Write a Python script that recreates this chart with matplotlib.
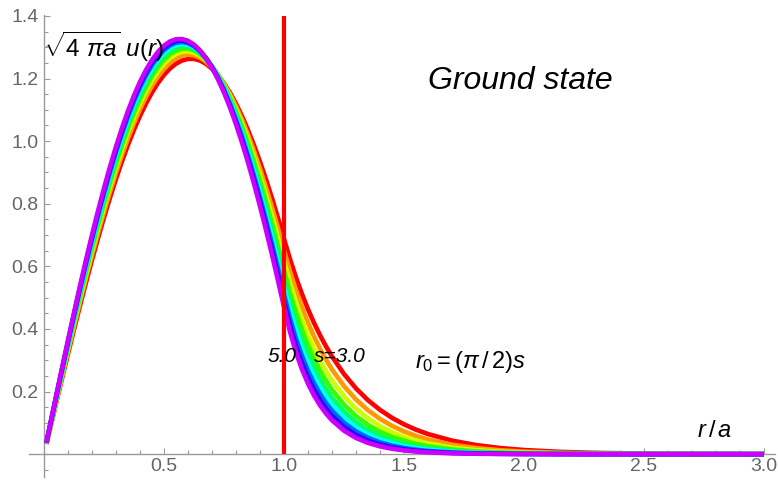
import colorsys

import matplotlib
matplotlib.use('Agg')
from matplotlib import pyplot as plt
from matplotlib.ticker import MultipleLocator

plt.rcParams['font.family'] = 'Liberation Sans'
plt.rcParams['mathtext.fontset'] = 'custom'
plt.rcParams['mathtext.rm'] = 'Liberation Sans'
plt.rcParams['mathtext.it'] = 'Liberation Sans:italic'
plt.rcParams['mathtext.sf'] = 'Liberation Sans'

# r/a sample points and sqrt(4 pi a) u(r) for each well strength s
rho = [0.01, 0.05, 0.075, 0.1, 0.125, 0.15, 0.175, 0.2, 0.225, 0.25,
       0.275, 0.3, 0.325, 0.35, 0.375, 0.4, 0.425, 0.45, 0.475, 0.5,
       0.525, 0.55, 0.575, 0.6, 0.625, 0.65, 0.675, 0.7, 0.725, 0.75,
       0.775, 0.8, 0.825, 0.85, 0.875, 0.9, 0.925, 0.95, 0.975, 1.0,
       1.025, 1.05, 1.075, 1.1, 1.125, 1.15, 1.175, 1.2,
       1.25, 1.3, 1.35, 1.4, 1.45, 1.5, 1.55, 1.6,
       1.7, 1.8, 1.9, 2.0, 2.15, 2.3, 2.6, 3.0]

s_values = [3.0, 3.25, 3.5, 3.75, 4.0, 4.25, 4.5, 4.75, 5.0]

u_300 = [0.0324, 0.1617, 0.2417, 0.3207, 0.3984, 0.4744, 0.5485, 0.6203, 0.6897, 0.7562,
         0.8196, 0.8796, 0.9358, 0.9882, 1.0365, 1.0806, 1.1204, 1.1556, 1.1860, 1.2116,
         1.2321, 1.2475, 1.2577, 1.2628, 1.2627, 1.2575, 1.2470, 1.2314, 1.2108, 1.1852,
         1.1548, 1.1196, 1.0797, 1.0353, 0.9867, 0.9340, 0.8776, 0.8176, 0.7543, 0.6878,
         0.6231, 0.5645, 0.5114, 0.4632, 0.4196, 0.3802, 0.3444, 0.3120,
         0.2561, 0.2101, 0.1724, 0.1415, 0.1161, 0.0953, 0.0782, 0.0642,
         0.0432, 0.0291, 0.0196, 0.0132, 0.0073, 0.0040, 0.0012, 0.0003]
u_325 = [0.0333, 0.1658, 0.2478, 0.3288, 0.4084, 0.4863, 0.5621, 0.6355, 0.7062, 0.7739,
         0.8383, 0.8992, 0.9563, 1.0093, 1.0580, 1.1022, 1.1418, 1.1765, 1.2062, 1.2308,
         1.2502, 1.2642, 1.2730, 1.2763, 1.2742, 1.2667, 1.2538, 1.2356, 1.2122, 1.1836,
         1.1500, 1.1115, 1.0683, 1.0206, 0.9685, 0.9123, 0.8523, 0.7886, 0.7216, 0.6515,
         0.5838, 0.5231, 0.4687, 0.4200, 0.3763, 0.3372, 0.3021, 0.2708,
         0.2174, 0.1746, 0.1402, 0.1125, 0.0903, 0.0726, 0.0583, 0.0468,
         0.0302, 0.0194, 0.0125, 0.0081, 0.0042, 0.0022, 0.0006, 0.0001]
u_350 = [0.0340, 0.1694, 0.2532, 0.3359, 0.4171, 0.4965, 0.5737, 0.6485, 0.7204, 0.7892,
         0.8546, 0.9162, 0.9738, 1.0272, 1.0761, 1.1203, 1.1596, 1.1939, 1.2230, 1.2468,
         1.2652, 1.2780, 1.2853, 1.2869, 1.2830, 1.2734, 1.2583, 1.2377, 1.2117, 1.1805,
         1.1441, 1.1028, 1.0567, 1.0059, 0.9507, 0.8914, 0.8283, 0.7615, 0.6914, 0.6183,
         0.5481, 0.4858, 0.4306, 0.3817, 0.3384, 0.3000, 0.2659, 0.2357,
         0.1852, 0.1455, 0.1143, 0.0899, 0.0706, 0.0555, 0.0436, 0.0343,
         0.0212, 0.0131, 0.0081, 0.0050, 0.0024, 0.0012, 0.0003, 0.0000]
u_375 = [0.0346, 0.1726, 0.2580, 0.3421, 0.4247, 0.5055, 0.5840, 0.6599, 0.7328, 0.8025,
         0.8686, 0.9309, 0.9890, 1.0427, 1.0917, 1.1359, 1.1750, 1.2089, 1.2374, 1.2604,
         1.2777, 1.2894, 1.2953, 1.2954, 1.2898, 1.2784, 1.2613, 1.2386, 1.2104, 1.1768,
         1.1379, 1.0940, 1.0452, 0.9917, 0.9338, 0.8717, 0.8058, 0.7363, 0.6635, 0.5877,
         0.5154, 0.4520, 0.3964, 0.3476, 0.3048, 0.2674, 0.2345, 0.2056,
         0.1581, 0.1216, 0.0935, 0.0720, 0.0554, 0.0426, 0.0328, 0.0252,
         0.0149, 0.0088, 0.0052, 0.0031, 0.0014, 0.0006, 0.0001, 0.0000]
u_400 = [0.0352, 0.1753, 0.2620, 0.3475, 0.4314, 0.5134, 0.5930, 0.6699, 0.7438, 0.8143,
         0.8811, 0.9439, 1.0024, 1.0563, 1.1054, 1.1495, 1.1884, 1.2218, 1.2497, 1.2720,
         1.2885, 1.2991, 1.3038, 1.3025, 1.2953, 1.2823, 1.2634, 1.2388, 1.2085, 1.1727,
         1.1316, 1.0854, 1.0342, 0.9783, 0.9180, 0.8535, 0.7852, 0.7132, 0.6380, 0.5599,
         0.4858, 0.4216, 0.3658, 0.3174, 0.2754, 0.2390, 0.2074, 0.1800,
         0.1355, 0.1020, 0.0768, 0.0578, 0.0435, 0.0328, 0.0247, 0.0186,
         0.0105, 0.0060, 0.0034, 0.0019, 0.0008, 0.0004, 0.0001, 0.0000]
u_425 = [0.0357, 0.1778, 0.2657, 0.3524, 0.4374, 0.5204, 0.6010, 0.6788, 0.7535, 0.8247,
         0.8921, 0.9553, 1.0141, 1.0682, 1.1174, 1.1614, 1.2001, 1.2331, 1.2605, 1.2820,
         1.2976, 1.3072, 1.3108, 1.3083, 1.2997, 1.2851, 1.2646, 1.2382, 1.2061, 1.1684,
         1.1253, 1.0769, 1.0237, 0.9656, 0.9031, 0.8364, 0.7659, 0.6917, 0.6144, 0.5342,
         0.4587, 0.3938, 0.3381, 0.2904, 0.2494, 0.2141, 0.1838, 0.1578,
         0.1163, 0.0858, 0.0633, 0.0466, 0.0344, 0.0253, 0.0187, 0.0138,
         0.0075, 0.0041, 0.0022, 0.0012, 0.0005, 0.0002, 0.0000, 0.0000]
u_450 = [0.0361, 0.1800, 0.2690, 0.3567, 0.4427, 0.5267, 0.6082, 0.6868, 0.7622, 0.8339,
         0.9018, 0.9654, 1.0245, 1.0788, 1.1281, 1.1719, 1.2103, 1.2430, 1.2699, 1.2908,
         1.3057, 1.3143, 1.3168, 1.3131, 1.3033, 1.2872, 1.2652, 1.2372, 1.2034, 1.1639,
         1.1190, 1.0688, 1.0136, 0.9536, 0.8892, 0.8205, 0.7481, 0.6720, 0.5928, 0.5108,
         0.4340, 0.3688, 0.3134, 0.2663, 0.2263, 0.1922, 0.1633, 0.1388,
         0.1002, 0.0724, 0.0523, 0.0377, 0.0272, 0.0197, 0.0142, 0.0102,
         0.0053, 0.0028, 0.0015, 0.0008, 0.0003, 0.0001, 0.0000, 0.0000]
u_475 = [0.0365, 0.1820, 0.2719, 0.3605, 0.4474, 0.5322, 0.6145, 0.6938, 0.7698, 0.8421,
         0.9105, 0.9744, 1.0337, 1.0881, 1.1373, 1.1811, 1.2193, 1.2516, 1.2780, 1.2983,
         1.3124, 1.3202, 1.3218, 1.3170, 1.3060, 1.2888, 1.2654, 1.2359, 1.2006, 1.1595,
         1.1130, 1.0611, 1.0042, 0.9425, 0.8763, 0.8059, 0.7316, 0.6539, 0.5731, 0.4895,
         0.4116, 0.3461, 0.2910, 0.2448, 0.2059, 0.1731, 0.1456, 0.1224,
         0.0866, 0.0612, 0.0433, 0.0306, 0.0216, 0.0153, 0.0108, 0.0077,
         0.0038, 0.0019, 0.0010, 0.0005, 0.0002, 0.0001, 0.0000, 0.0000]
u_500 = [0.0369, 0.1838, 0.2746, 0.3641, 0.4518, 0.5373, 0.6203, 0.7002, 0.7768, 0.8496,
         0.9183, 0.9826, 1.0421, 1.0966, 1.1459, 1.1895, 1.2275, 1.2594, 1.2854, 1.3051,
         1.3186, 1.3256, 1.3263, 1.3205, 1.3085, 1.2900, 1.2654, 1.2346, 1.1979, 1.1553,
         1.1073, 1.0538, 0.9953, 0.9319, 0.8641, 0.7921, 0.7163, 0.6370, 0.5546, 0.4696,
         0.3908, 0.3253, 0.2707, 0.2253, 0.1875, 0.1560, 0.1298, 0.1081,
         0.0749, 0.0518, 0.0359, 0.0249, 0.0172, 0.0119, 0.0082, 0.0057,
         0.0027, 0.0013, 0.0006, 0.0003, 0.0001, 0.0000, 0.0000, 0.0000]

curves = [u_300, u_325, u_350, u_375, u_400, u_425, u_450, u_475, u_500]

well_radius = 1.0
xticks = [0.5, 1.0, 1.5, 2.0, 2.5, 3.0]
yticks = [0.2, 0.4, 0.6, 0.8, 1.0, 1.2, 1.4]

fig = plt.figure(figsize=(7.78, 4.84), dpi=100)
ax = fig.add_axes([29 / 778, 7 / 484, 746 / 778, 462 / 484])

# rainbow family, red (s=3) to purple (s=5)
for i, u in enumerate(curves):
    color = colorsys.hsv_to_rgb(0.1 * i, 1.0, 1.0)
    ax.plot(rho, u, color=color, lw=3.3, solid_joinstyle='round',
            solid_capstyle='butt', zorder=2)

ax.vlines(well_radius, 0, yticks[-1], color='red', lw=3, zorder=3)

ax.set_xlim(-0.0625, 3.046)
ax.set_ylim(-0.073, 1.403)

# Mathematica-like axes through the origin
for side in ['top', 'right']:
    ax.spines[side].set_visible(False)
ax.spines['left'].set_position(('data', 0))
ax.spines['bottom'].set_position(('data', 0))
for side in ['left', 'bottom']:
    ax.spines[side].set_color('#9a9a9a')
    ax.spines[side].set_linewidth(1.0)
    ax.spines[side].set_zorder(1)

ax.set_xticks(xticks)
ax.set_xticklabels(['%.1f' % v for v in xticks])
ax.set_yticks(yticks)
ax.set_yticklabels(['%.1f' % v for v in yticks])
ax.xaxis.set_minor_locator(MultipleLocator(0.1))
ax.yaxis.set_minor_locator(MultipleLocator(0.05))
ax.tick_params(which='both', direction='in', color='#9a9a9a', width=0.8,
               labelcolor='#666666', labelsize=14)
ax.tick_params(which='major', length=4.5)
ax.tick_params(which='minor', length=2.6)
ax.tick_params(axis='x', pad=3)
ax.tick_params(axis='y', pad=4)

# labels
ax.text(-0.005, 1.27, r'$\sqrt{\mathit{4}\ \pi a}\ u(r)$', fontsize=17.5,
        ha='left', va='baseline', clip_on=False)
ax.text(1.6, 1.165, 'Ground state', fontsize=23, style='italic',
        ha='left', va='baseline')
ax.text(0.93, 0.293, '5.0', fontsize=15, style='italic', ha='left', va='baseline')
ax.text(1.125, 0.293, 's=3.0', fontsize=15, style='italic', ha='left', va='baseline')
ax.text(1.545, 0.275, r'$r_{\mathit{0}}=(\pi\,/\,\mathit{2})s$', fontsize=17,
        ha='left', va='baseline')
ax.text(2.72, 0.056, r'$r\,/\,a$', fontsize=17, ha='left', va='baseline')

fig.savefig('out.png', dpi=100)
